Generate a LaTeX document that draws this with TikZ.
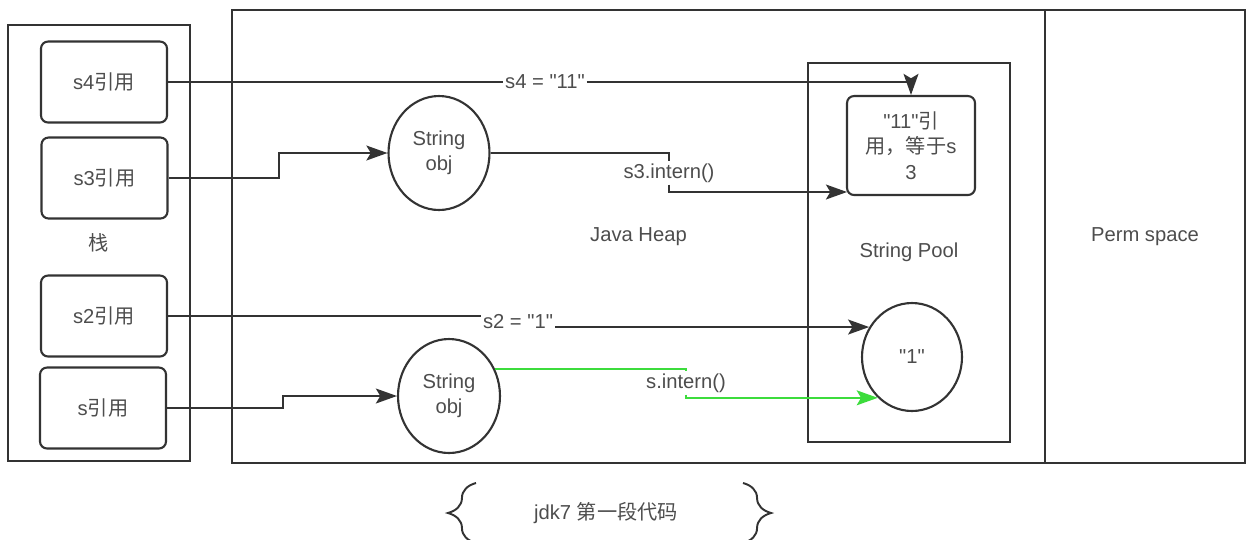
\documentclass[tikz,border=0pt]{standalone}
\usepackage{fontspec}
\setmainfont{Liberation Sans}[Ligatures=TeXOff]
\newfontfamily\cjk{Noto Sans CJK SC}
\usetikzlibrary{arrows.meta,shapes.geometric,decorations.pathreplacing}
\definecolor{linegray}{HTML}{333333}
\definecolor{textgray}{HTML}{4D4D4D}
\definecolor{callgreen}{HTML}{3CDC3C}
\tikzset{
  frame/.style={draw=linegray, line width=1.4pt, inner sep=0pt},
  refbox/.style={draw=linegray, line width=1.2pt, rounded corners=4pt,
    minimum width=2.52cm, minimum height=1.62cm, inner sep=0pt, align=center},
  obj/.style={ellipse, draw=linegray, line width=1.2pt, inner sep=0pt, align=center},
  lbl/.style={fill=white, inner sep=1pt},
  link/.style={draw=linegray, line width=1.1pt},
  arr/.style={link, -{Stealth[length=12pt,width=8.5pt,inset=2.5pt]}},
}
\begin{document}
\begin{tikzpicture}[x=0.02cm, y=-0.02cm,
    every node/.style={text=textgray, font=\fontsize{11.5}{14.5}\selectfont}]
    \useasboundingbox (0,0) rectangle (1247,539);
    \clip (0,0) rectangle (1247,539);

    % Memory areas
    \node[frame, minimum width=3.64cm, minimum height=8.72cm] (stack) at (99,243) {\cjk 栈};
    \node[frame, minimum width=16.26cm, minimum height=9.06cm] (heap) at (638.5,236.5) {Java Heap};
    \node[frame, minimum width=4cm, minimum height=9.06cm] (perm) at (1145,236.5) {Perm space};
    \node[frame, minimum width=4.04cm, minimum height=7.58cm] (pool) at (909,252.5) {String Pool};

    % References on the stack
    \node[refbox] (s4) at (104,82) {s4{\cjk 引用}};
    \node[refbox] (s3) at (104.5,178) {s3{\cjk 引用}};
    \node[refbox] (s2) at (104,316) {s2{\cjk 引用}};
    \node[refbox] (s) at (103,408) {s{\cjk 引用}};

    % Objects in the heap and in the pool
    \node[obj, minimum width=2.02cm, minimum height=2.28cm] (obj1) at (439,153) {String\\obj};
    \node[obj, minimum width=2.04cm, minimum height=2.28cm] (obj2) at (449,396) {String\\obj};
    \node[refbox, minimum width=2.56cm, minimum height=1.98cm] (r11) at (911,145.5)
        {"11"{\cjk 引}\\{\cjk 用，等于}s\\3};
    \node[obj, minimum width=2cm, minimum height=2.16cm] (one) at (912,357) {"1"};

    % Labels on the connectors
    \node[lbl] (s4lbl) at (545,82) {s4 = "11"};
    \node[lbl] (s3lbl) at (669,173) {s3.intern()};
    \node[lbl] (s2lbl) at (518,322) {s2 = "1"};
    \node[lbl] (slbl) at (686,383) {s.intern()};
    \coordinate (r11in) at (847,192);

    % Connectors
    \draw[link] (s4.east) -- (s4lbl.west);
    \draw[arr] (s4lbl.east) -| (r11.north);
    \draw[arr] (s3.east) -- ++(110,0) |- (obj1.west);
    \draw[link] (obj1.east) -| (s3lbl.north);
    \draw[arr] (s3lbl.south) |- (r11in);
    \draw[link] (s2.east) -- (s2.east -| s2lbl.west);
    \draw[arr] (s2lbl.east |- one.145) -- (one.145);
    \draw[arr] (s.east) -- ++(116,0) |- (obj2.west);
    \draw[link, draw=callgreen] (obj2.30) -| (slbl.north);
    \draw[arr, draw=callgreen] (slbl.south) |- (one.230);

    % Caption
    \node (caption) at (606,513) {jdk7 {\cjk 第一段代码}};
    \draw[link, decorate, decoration={brace, amplitude=16pt}] (476,543) -- (476,483);
    \draw[link, decorate, decoration={brace, amplitude=16pt}] (743,483) -- (743,543);
\end{tikzpicture}
\end{document}
